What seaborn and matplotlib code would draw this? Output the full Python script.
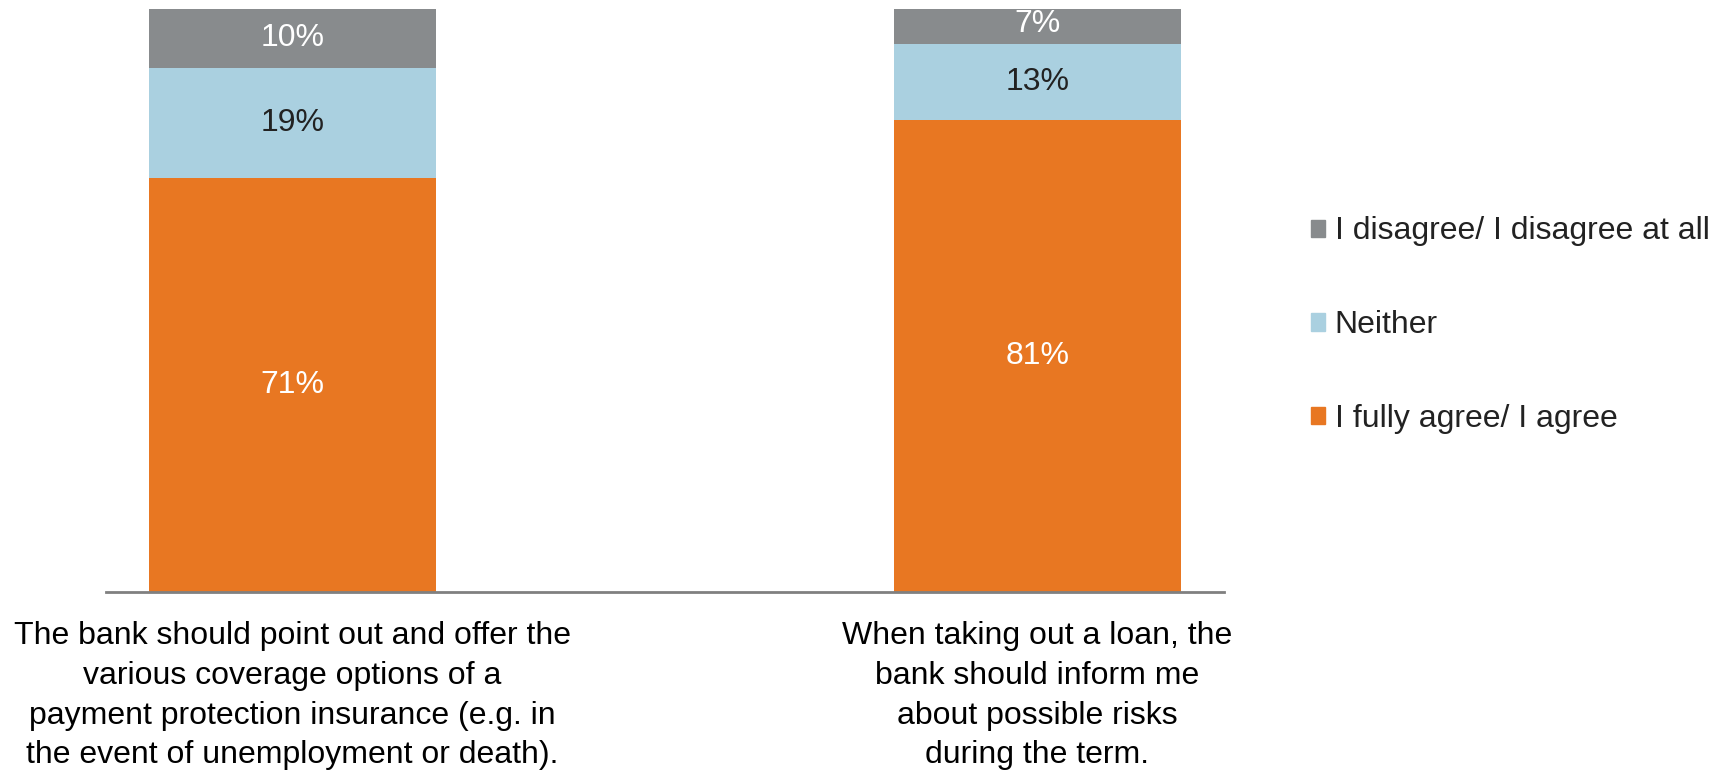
import pandas as pd
import matplotlib
matplotlib.use("Agg")
import matplotlib.pyplot as plt
import matplotlib.patches as mpatches
import seaborn as sns

# Chart data
statements = [
    "The bank should point out and offer the\nvarious coverage options of a\npayment protection insurance (e.g. in\nthe event of unemployment or death).",
    "When taking out a loan, the\nbank should inform me\nabout possible risks\nduring the term.",
]
agree = [71, 81]
neither = [19, 13]
disagree = [10, 7]

series_names = ["I fully agree/ I agree", "Neither", "I disagree/ I disagree at all"]
series_colors = ["#E87722", "#AAD0E0", "#888B8D"]
label_colors = ["white", "#222222", "white"]

df = pd.DataFrame({
    "Statement": statements,
    series_names[0]: agree,
    series_names[1]: neither,
    series_names[2]: disagree,
})

sns.set_theme(style="white")
plt.rcParams["font.family"] = ["Liberation Sans", "DejaVu Sans"]

fig = plt.figure(figsize=(17.16, 7.71), dpi=100)
ax = fig.add_axes([0.062, 0.232, 0.651, 0.756])

# Stacked bars: draw cumulative totals from the top segment down
cum = df[series_names].cumsum(axis=1)
for name, color in reversed(list(zip(series_names, series_colors))):
    sns.barplot(x="Statement", y=cum[name], data=df.assign(**{name: cum[name]}),
                color=color, width=0.385, errorbar=None, ax=ax, saturation=1,
                linewidth=0, edgecolor="none")

# Segment labels
for i in range(len(df)):
    base = 0
    for name, tcolor in zip(series_names, label_colors):
        v = df[name].iloc[i]
        ax.text(i, base + v / 2, f"{v}%", ha="center", va="center",
                fontsize=23, color=tcolor)
        base += v

ax.set_xlim(-0.25, 1.25)
ax.set_ylim(0, 100)
ax.set_xlabel("")
ax.set_ylabel("")
ax.set_yticks([])
ax.set_xticks(range(len(statements)))
ax.set_xticklabels(statements, fontsize=23, color="black", linespacing=1.42)
ax.tick_params(axis="x", length=0, pad=21)
for s in ["top", "left", "right"]:
    ax.spines[s].set_visible(False)
ax.spines["bottom"].set_color("#808080")
ax.spines["bottom"].set_linewidth(2)

handles = [mpatches.Patch(color=c, label=n) for n, c in zip(series_names, series_colors)][::-1]
fig.legend(handles=handles, loc="center left", bbox_to_anchor=(0.747, 0.578),
           frameon=False, fontsize=23, labelcolor="#222222",
           handlelength=0.45, handleheight=0.45, handletextpad=0.3, labelspacing=2.0)

fig.savefig("out.png", dpi=100)
